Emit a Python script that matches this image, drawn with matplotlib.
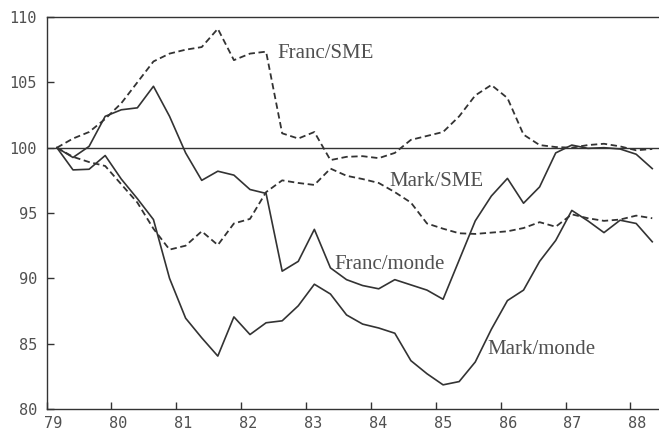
import numpy as np
import matplotlib
matplotlib.use("Agg")
import matplotlib.pyplot as plt
from matplotlib.transforms import ScaledTranslation

# quarterly observations, first one just after the start of 1979
quarters = np.arange(38)
dates = 79.16 + quarters * 0.248

franc_sme = [100.0, 100.7, 101.2, 102.2, 103.4, 105.0, 106.6, 107.2, 107.5, 107.7,
             109.1, 106.7, 107.2, 107.35, 101.1, 100.7, 101.2, 99.05, 99.3, 99.35,
             99.2, 99.6, 100.6, 100.9, 101.2, 102.4, 104.0, 104.8, 103.8, 101.0,
             100.2, 100.05, 100.0, 100.2, 100.3, 100.1, 99.8, 99.9]
mark_sme = [100.0, 99.3, 98.9, 98.6, 97.2, 95.8, 93.8, 92.2, 92.5, 93.6,
            92.55, 94.2, 94.55, 96.6, 97.5, 97.3, 97.15, 98.4, 97.85, 97.6,
            97.3, 96.6, 95.8, 94.2, 93.8, 93.45, 93.4, 93.5, 93.6, 93.85,
            94.3, 93.95, 94.9, 94.6, 94.4, 94.5, 94.8, 94.6]
franc_monde = [100.0, 99.25, 100.1, 102.4, 102.9, 103.05, 104.7, 102.4, 99.6, 97.5,
               98.2, 97.9, 96.8, 96.5, 90.55, 91.3, 93.75, 90.8, 89.9, 89.45,
               89.2, 89.9, 89.5, 89.1, 88.4, 91.4, 94.4, 96.3, 97.65, 95.75,
               97.0, 99.6, 100.2, 99.95, 100.0, 99.9, 99.5, 98.4]
mark_monde = [100.0, 98.3, 98.35, 99.4, 97.6, 96.1, 94.5, 90.0, 86.95, 85.45,
              84.05, 87.05, 85.7, 86.6, 86.75, 87.9, 89.55, 88.8, 87.2, 86.5,
              86.2, 85.8, 83.7, 82.7, 81.85, 82.1, 83.6, 86.1, 88.3, 89.1,
              91.3, 92.9, 95.2, 94.4, 93.5, 94.45, 94.2, 92.8]

year_ticks = [79, 80, 81, 82, 83, 84, 85, 86, 87, 88]
value_ticks = [80, 85, 90, 95, 100, 105, 110]

# label text and anchor (left edge, baseline) in data units
labels = [
    ("Franc/SME", 82.56, 106.84),
    ("Mark/SME", 84.28, 97.09),
    ("Franc/monde", 83.43, 90.74),
    ("Mark/monde", 85.80, 84.19),
]

ink = "#333333"
text_ink = "#505050"
dashed = (0, (3.5, 2.0))

fig = plt.figure(figsize=(6.59, 4.32), dpi=100)
ax = fig.add_axes([0.0706, 0.0532, 1 - 0.0706, 0.9606 - 0.0532])

ax.axhline(100, color=ink, lw=1.0)
ax.plot(dates, franc_sme, color=ink, lw=1.3, linestyle=dashed)
ax.plot(dates, mark_sme, color=ink, lw=1.3, linestyle=dashed)
ax.plot(dates, franc_monde, color=ink, lw=1.2)
ax.plot(dates, mark_monde, color=ink, lw=1.2)

for text, x, y in labels:
    ax.text(x, y, text, family="Liberation Serif", fontsize=15,
            color=text_ink, ha="left", va="baseline")

ax.set_xlim(79, 88.44)
ax.set_ylim(80, 110)
ax.set_xticks(year_ticks)
ax.set_xticklabels([str(t) for t in year_ticks])
ax.set_yticks(value_ticks)
ax.set_yticklabels([str(t) for t in value_ticks])

ax.tick_params(axis="both", direction="in", length=5, width=1.0, color=ink,
               labelsize=11, labelcolor=text_ink)
ax.tick_params(axis="x", pad=5)
ax.tick_params(axis="y", pad=7)
for lab in ax.get_xticklabels() + ax.get_yticklabels():
    lab.set_family("DejaVu Sans Mono")

# the printed year labels sit a little right of their ticks
shift = ScaledTranslation(5 / 72, 0, fig.dpi_scale_trans)
for lab in ax.get_xticklabels():
    lab.set_transform(lab.get_transform() + shift)

for side in ["left", "bottom", "top"]:
    ax.spines[side].set_color(ink)
    ax.spines[side].set_linewidth(1.0)
ax.spines["right"].set_visible(False)

fig.savefig("out.png", dpi=100)
